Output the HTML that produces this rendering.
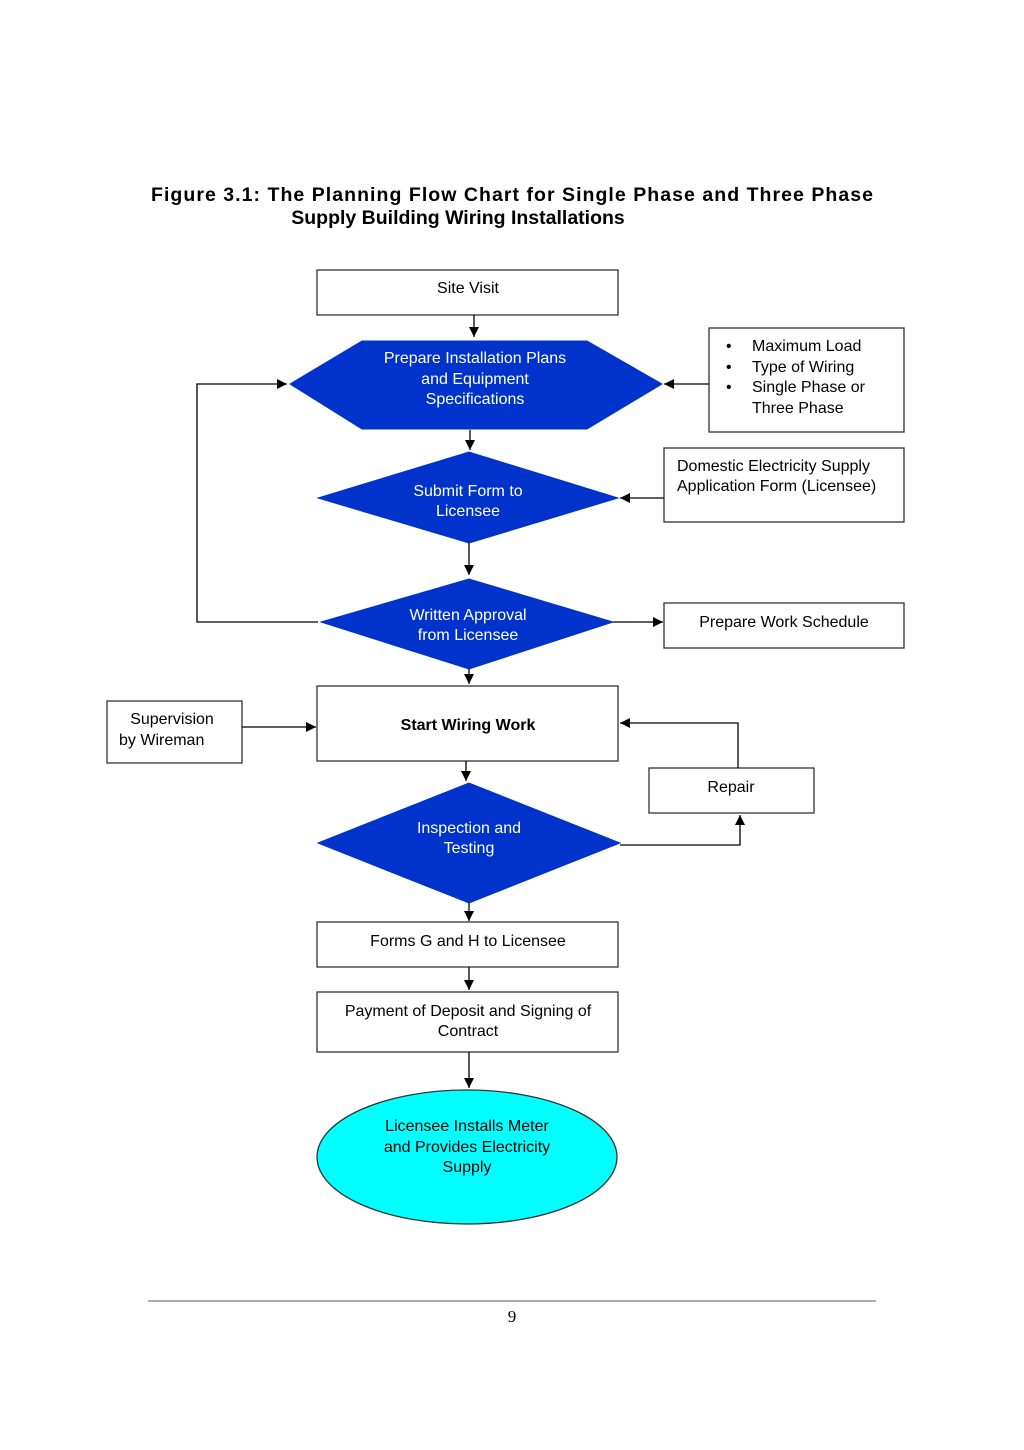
<!DOCTYPE html>
<html><head><meta charset="utf-8"><style>
html,body{margin:0;padding:0;background:#fff;}
svg{display:block;}
text{font-family:"Liberation Sans",Arial,sans-serif;font-size:16px;}
</style></head><body>
<svg width="1024" height="1450" viewBox="0 0 1024 1450" xmlns="http://www.w3.org/2000/svg">
<defs><marker id="a" viewBox="0 0 10 10" refX="10" refY="5" markerWidth="10" markerHeight="10" markerUnits="userSpaceOnUse" orient="auto"><path d="M0,0 L10,5 L0,10 z" fill="#000"/></marker></defs>
<g font-weight="bold" style="font-size:19.5px">
<text x="151" y="201" textLength="722" lengthAdjust="spacing" style="font-size:19.5px">Figure 3.1: The Planning Flow Chart for Single Phase and Three Phase</text>
<text x="458" y="224" text-anchor="middle" style="font-size:19.5px">Supply Building Wiring Installations</text>
</g>
<g stroke="#333" stroke-width="1.3" fill="#fff">
<rect x="317" y="270" width="301" height="45"/>
<rect x="709" y="328" width="195" height="104"/>
<rect x="664" y="448" width="240" height="74"/>
<rect x="664" y="603" width="240" height="45"/>
<rect x="317" y="686" width="301" height="75"/>
<rect x="107" y="701" width="135" height="62"/>
<rect x="649" y="768" width="165" height="45"/>
<rect x="317" y="922" width="301" height="45"/>
<rect x="317" y="992" width="301" height="60"/>
</g>
<g fill="#0033cc" stroke="#0033cc">
<polygon points="290,384 362,341 587,341 662,384 587,429 362,429"/>
<polygon points="318,498 469,452 618,498 469,543"/>
<polygon points="321,622 469,579 613,622 469,669"/>
<polygon points="318,843 469,783 620,843 469,903"/>
</g>
<ellipse cx="467" cy="1157" rx="150" ry="67" fill="#00ffff" stroke="#333" stroke-width="1.3"/>
<g stroke="#000" stroke-width="1.3" fill="none">
<line x1="474" y1="315" x2="474" y2="337" marker-end="url(#a)"/>
<line x1="709" y1="384" x2="664" y2="384" marker-end="url(#a)"/>
<line x1="470" y1="430" x2="470" y2="450" marker-end="url(#a)"/>
<line x1="664" y1="498" x2="620" y2="498" marker-end="url(#a)"/>
<line x1="469" y1="543" x2="469" y2="575" marker-end="url(#a)"/>
<polyline points="318,622 197,622 197,384 287,384" marker-end="url(#a)"/>
<line x1="613" y1="622" x2="663" y2="622" marker-end="url(#a)"/>
<line x1="469" y1="669" x2="469" y2="684" marker-end="url(#a)"/>
<line x1="242" y1="727" x2="316" y2="727" marker-end="url(#a)"/>
<polyline points="738,768 738,723 620,723" marker-end="url(#a)"/>
<line x1="466" y1="761" x2="466" y2="781" marker-end="url(#a)"/>
<polyline points="620,845 740,845 740,815" marker-end="url(#a)"/>
<line x1="469" y1="903" x2="469" y2="921" marker-end="url(#a)"/>
<line x1="469" y1="967" x2="469" y2="990" marker-end="url(#a)"/>
<line x1="469" y1="1052" x2="469" y2="1088" marker-end="url(#a)"/>
<line x1="148" y1="1301" x2="876" y2="1301" stroke="#777"/>
</g>
<g fill="#000">
<text x="468" y="293" text-anchor="middle">Site Visit</text>
<text x="726" y="351">•</text><text x="752" y="351">Maximum Load</text>
<text x="726" y="372">•</text><text x="752" y="372">Type of Wiring</text>
<text x="726" y="392">•</text><text x="752" y="392">Single Phase or</text>
<text x="752" y="413">Three Phase</text>
<text x="677" y="471">Domestic Electricity Supply</text>
<text x="677" y="491">Application Form (Licensee)</text>
<text x="784" y="627" text-anchor="middle">Prepare Work Schedule</text>
<text x="468" y="730" text-anchor="middle" font-weight="bold">Start Wiring Work</text>
<text x="172" y="724" text-anchor="middle">Supervision</text>
<text x="119" y="745">by Wireman</text>
<text x="731" y="792" text-anchor="middle">Repair</text>
<text x="468" y="946" text-anchor="middle">Forms G and H  to Licensee</text>
<text x="468" y="1016" text-anchor="middle">Payment of Deposit and Signing of</text>
<text x="468" y="1036" text-anchor="middle">Contract</text>
<text x="467" y="1131" text-anchor="middle">Licensee Installs Meter</text>
<text x="467" y="1152" text-anchor="middle">and Provides Electricity</text>
<text x="467" y="1172" text-anchor="middle">Supply</text>
<text x="512" y="1322" text-anchor="middle" style="font-family:'Liberation Serif',serif;font-size:17px">9</text>
</g>
<g fill="#fff">
<text x="475" y="363" text-anchor="middle">Prepare Installation Plans</text>
<text x="475" y="384" text-anchor="middle">and Equipment</text>
<text x="475" y="404" text-anchor="middle">Specifications</text>
<text x="468" y="496" text-anchor="middle">Submit Form to</text>
<text x="468" y="516" text-anchor="middle">Licensee</text>
<text x="468" y="620" text-anchor="middle">Written Approval</text>
<text x="468" y="640" text-anchor="middle">from Licensee</text>
<text x="469" y="833" text-anchor="middle">Inspection and</text>
<text x="469" y="853" text-anchor="middle">Testing</text>
</g>
</svg>
</body></html>
